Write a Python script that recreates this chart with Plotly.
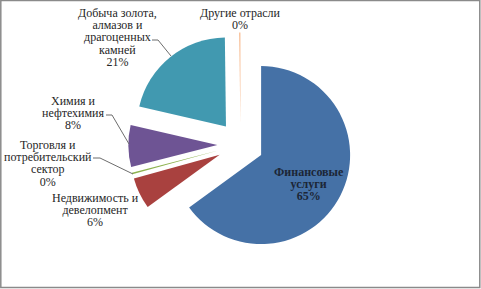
import plotly.graph_objects as go

# ---- data ----
labels = ["Финансовые услуги", "Недвижимость и девелопмент",
          "Торговля и потребительский сектор", "Химия и нефтехимия",
          "Добыча золота, алмазов и драгоценных камней", "Другие отрасли"]
label_lines = [["Финансовые", "услуги"], ["Недвижимость и", "девелопмент"],
               ["Торговля и", "потребительский", "сектор"], ["Химия и", "нефтехимия"],
               ["Добыча золота,", "алмазов и", "драгоценных", "камней"], ["Другие отрасли"]]
values = [65.0, 5.7, 0.3, 7.6, 21.2, 0.2]
colors = ["#4571A6", "#A9413F", "#8DB24F", "#6E5494", "#4199B0", "#F6B383"]

W, H = 481, 289

def px(x):
    return x / W

def py(y):
    return 1 - y / H

# label layout (pixels): centre x, first line y
label_pos = [(309, 172), (95, 197.5), (48, 145), (73, 101), (117, 13), (240, 13)]
LINE_STEP = 12.2
# leader lines (pixel polylines) - layout only
leaders = [
    None, None,
    [(93, 158), (100, 158), (133, 174)],
    [(106, 115), (112, 115), (129, 144)],
    [(152, 40), (158, 40), (171, 56)],
    None,
]

total = sum(values)
pct = [f"{round(v / total * 100):.0f}%" for v in values]

fig = go.Figure(go.Pie(
    labels=labels, values=values, sort=False, direction="clockwise", rotation=0,
    marker=dict(colors=colors, line=dict(width=0)),
    pull=[0.26] * len(values), textinfo="none", hoverinfo="label+percent",
    domain=dict(x=[0.2668, 0.7332], y=[0.1117, 0.8877]),
    showlegend=False,
))

for i, (lx, ly) in enumerate(label_pos):
    lines = label_lines[i] + [pct[i]]
    parts = []
    for t in lines:
        s = f"<span style='font-size:12px'>{t}</span>"
        parts.append(f"<b>{s}</b>" if i == 0 else s)
    cy = ly + (len(lines) - 1) * LINE_STEP / 2
    fig.add_annotation(x=px(lx), y=py(cy), xref="paper", yref="paper",
                       text="<br>".join(parts), showarrow=False,
                       xanchor="center", yanchor="middle", align="center",
                       font=dict(family="Liberation Serif", size=LINE_STEP / 1.3,
                                 color="#1c2636" if i == 0 else "#262626"))

for ln in leaders:
    if ln:
        path = "M " + " L ".join(f"{px(x)},{py(y)}" for x, y in ln)
        fig.add_shape(type="path", path=path, xref="paper", yref="paper",
                      line=dict(color="#6d6d6d", width=1))

fig.add_shape(type="rect", xref="paper", yref="paper",
              x0=px(0.8), x1=px(479.8), y0=py(287.5), y1=py(0.5),
              line=dict(color="#8a8a8a", width=1.5))

fig.update_layout(width=W, height=H, margin=dict(l=0, r=0, t=0, b=0),
                  paper_bgcolor="white", plot_bgcolor="white")
fig.write_html("out.html", config={"displayModeBar": False},
               post_script="document.body.style.margin='0';document.body.style.padding='0';document.body.style.overflow='hidden';")
